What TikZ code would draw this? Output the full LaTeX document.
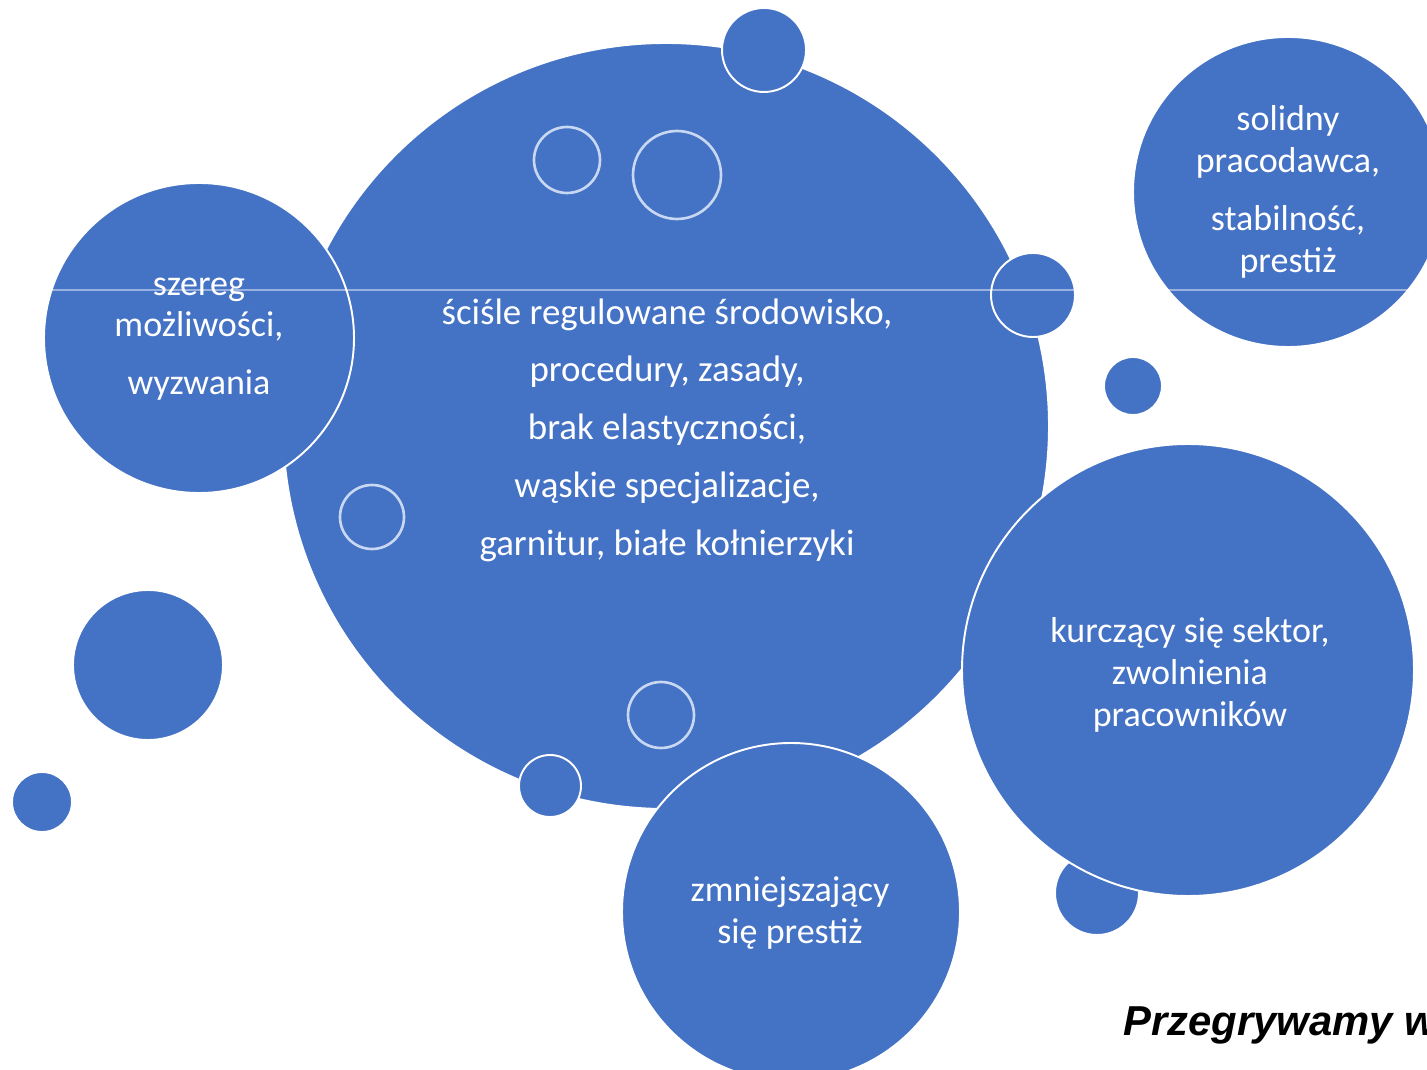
\documentclass[tikz,border=0pt]{standalone}
\usepackage{fontspec}
\setmainfont{Carlito}
\newfontfamily\arialfont{Liberation Sans}
\usepackage{xcolor}
\definecolor{bubbleblue}{HTML}{4472C4}
\definecolor{ringblue}{HTML}{C9D8F2}
\tikzstyle{bubble} = [fill=bubbleblue, draw=white, line width=1.1pt]
\tikzstyle{ring} = [draw=ringblue, line width=1.5pt]
\tikzstyle{bubbletext} = [text=white, align=center, inner sep=0pt, font=\fontsize{20.5}{23.8}\selectfont]

\begin{document}
\begin{tikzpicture}[x=0.02cm, y=-0.02cm]
    \useasboundingbox (0,0) rectangle (1427,1070);
    % big bubble in the middle
    \draw [bubble] (666,426) circle (383);
    \draw [ring] (567,160) circle (33);
    \draw [ring] (677,175) circle (44);
    \draw [ring] (372,517) circle (32);
    \draw [ring] (661,715) circle (33);
    % bubbles around it
    \draw [bubble] (199,338) circle (155);
    \draw [bubble] (764,50) circle (42);
    \draw [bubble] (1033,295) circle (42);
    \draw [bubble] (550,786) circle (31);
    \draw [bubble] (791,912) circle (169);
    \draw [bubble] (1097,893) circle (42);
    \draw [bubble] (1188,670) circle (226);
    \draw [bubble] (1288,192) circle (155);
    \draw [bubble] (1133,386) circle (29);
    \draw [bubble] (148,665) circle (75);
    \draw [bubble] (42,802) circle (30);
    % thin line across
    \draw [white, opacity=0.45, line width=0.6pt] (43,290) -- (1408,290);
    % texts
    \node [bubbletext, font=\fontsize{21}{32.9}\selectfont] (srodowisko) at (667,430)
        {ściśle regulowane środowisko,\\ procedury, zasady,\\ brak elastyczności,\\ wąskie specjalizacje,\\ garnitur, białe kołnierzyki};
    \node [bubbletext] (szereg) at (199,339) {szereg\\ możliwości,\\[9pt] wyzwania};
    \node [bubbletext] (solidny) at (1288,192) {solidny\\ pracodawca,\\[9pt] stabilność,\\ prestiż};
    \node [bubbletext] (kurczenie) at (1190,675) {kurczący się sektor,\\ zwolnienia\\ pracowników};
    \node [bubbletext] (prestiz) at (790,913) {zmniejszający\\ się prestiż};
    \node [anchor=base west, font=\arialfont\bfseries\itshape\fontsize{23.8}{28}\selectfont] (tytul) at (1117,1035) {Przegrywamy w};
\end{tikzpicture}
\end{document}
